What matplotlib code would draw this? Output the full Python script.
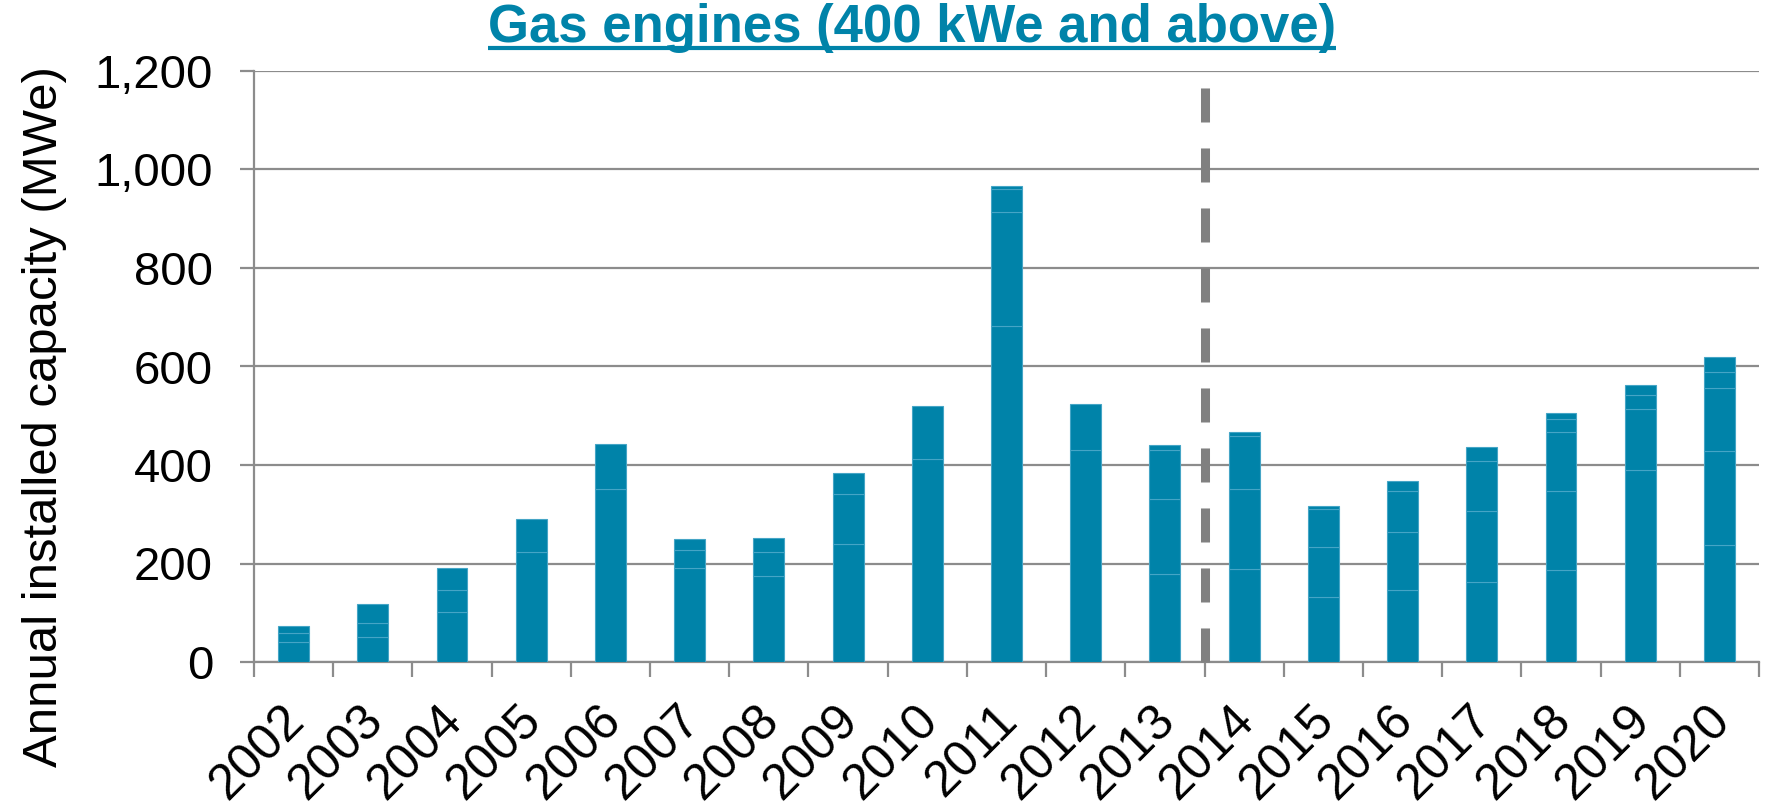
import numpy as np
import matplotlib
matplotlib.use('Agg')
import matplotlib.pyplot as plt
from matplotlib.ticker import FuncFormatter
import matplotlib.transforms as mtransforms
from matplotlib.lines import Line2D

plt.rcParams['font.family'] = ['Liberation Sans', 'DejaVu Sans']
plt.rcParams['lines.scale_dashes'] = False

# ---- data (MWe), stacked segments bottom -> top ----
years = [str(y) for y in range(2002, 2021)]
seg1 = [40.7, 50.9, 102.4, 223.2, 351.4, 191.3, 175.0, 239.5, 411.8, 682.5,
        430.0, 179.1, 189.3, 131.1, 145.8, 163.2, 187.3, 390.0, 237.5]
seg2 = [17.6, 28.5, 44.8, 66.5, 90.3, 36.0, 48.2, 101.7, 107.2, 231.3,
        93.7, 152.7, 162.1, 102.3, 117.7, 142.5, 160.5, 124.4, 190.6]
seg3 = [14.3, 39.3, 42.8, 0, 0, 21.7, 28.5, 43.5, 0, 46.2,
        0, 98.2, 106.6, 76.3, 83.7, 102.3, 118.4, 28.1, 128.4]
seg4 = [0, 0, 0, 0, 0, 0, 0, 0, 0, 6.1,
        0, 9.6, 9.4, 8.0, 20.0, 28.1, 28.1, 20.0, 32.1]
seg5 = [0, 0, 0, 0, 0, 0, 0, 0, 0, 0,
        0, 0, 0, 0, 0, 0, 10.7, 0, 30.8]
y_ticks = [0, 200, 400, 600, 800, 1000, 1200]
divider_after = "2013"
divider_top = 1170

title = "Gas engines (400 kWe and above)"
ylabel = "Annual installed capacity (MWe)"

BAR = '#0083A9'
EDGE = '#45A5C6'
GRID = '#8C8C8C'

W, H = 1768, 807
fig = plt.figure(figsize=(W / 100, H / 100), dpi=100)
ax = fig.add_axes([254 / W, 1 - 662 / H, (1759 - 254) / W, (662 - 71) / H])

x = np.arange(len(years))
bottom = np.zeros(len(years))
for seg in [seg1, seg2, seg3, seg4, seg5]:
    arr = np.array(seg, dtype=float)
    m = arr > 0
    ax.bar(x[m], arr[m], 0.39, bottom=bottom[m], color=BAR,
           edgecolor=EDGE, linewidth=0.8, zorder=3)
    bottom += arr

# divider line
xd = years.index(divider_after) + 0.5
ax.plot([xd, xd], [0, divider_top], color='#808080', lw=6.5,
        dashes=(24.5, 18.7), zorder=4, clip_on=False)

ax.set_xlim(-0.5, len(years) - 0.5)
ax.set_ylim(0, 1200)
ax.set_yticks(y_ticks)
ax.yaxis.set_major_formatter(FuncFormatter(lambda v, p: f"{int(v):,}"))
ax.set_axisbelow(True)
ax.yaxis.grid(True, color=GRID, lw=1.6)
ax.xaxis.grid(False)

for s in ['top', 'right']:
    ax.spines[s].set_visible(False)
for s in ['left', 'bottom']:
    ax.spines[s].set_color(GRID)
    ax.spines[s].set_linewidth(1.6)

ax.tick_params(axis='y', length=10, width=1.6, color=GRID, pad=19.5,
               labelsize=34, labelcolor='black')
ax.set_xticks(x)
ax.set_xticklabels(years, rotation=45, ha='right', va='top',
                   rotation_mode='anchor', fontsize=36)
ax.set_xticks(np.arange(-0.5, len(years), 1), minor=True)
ax.tick_params(axis='x', which='major', length=0, pad=25)
ax.tick_params(axis='x', which='minor', length=10.8, width=1.6, color=GRID)
off = mtransforms.ScaledTranslation(-13 / 100, 0, fig.dpi_scale_trans)
for lab in ax.get_xticklabels():
    lab.set_transform(lab.get_transform() + off)

fig.text(45 / W, 1 - 417 / H, ylabel, rotation=90, ha='center',
         va='center', fontsize=35.4, color='black')

t = fig.text(912 / W, 1 - 42 / H, title, ha='center', va='baseline',
             fontsize=38, fontweight='bold', color=BAR)
fig.canvas.draw()
bb = t.get_window_extent(fig.canvas.get_renderer())
yl = 1 - 48 / H
fig.add_artist(Line2D([bb.x0 / W, bb.x1 / W], [yl, yl], transform=fig.transFigure,
                      color=BAR, lw=3.0, solid_capstyle='butt'))

fig.savefig('out.png', dpi=100, facecolor='white')
